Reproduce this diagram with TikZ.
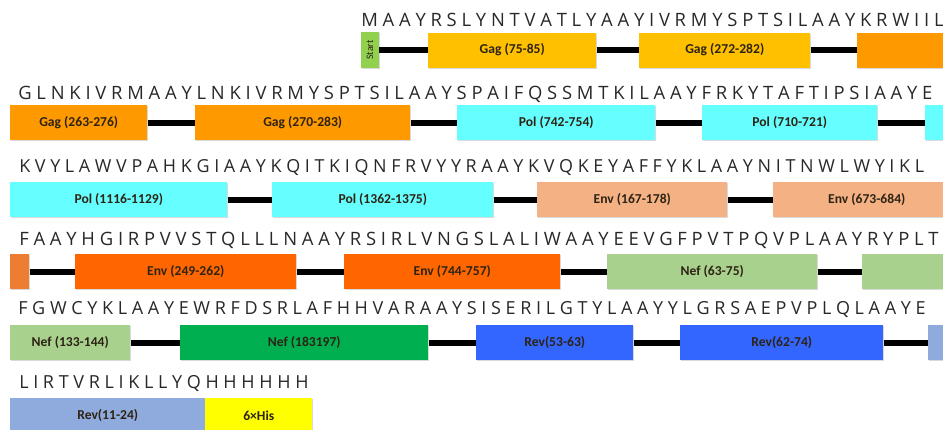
\documentclass[tikz,border=0pt]{standalone}
\usepackage{fontspec}
\setmainfont{Open Sans}
\newfontfamily\boxfont{Carlito}
\usepackage{xcolor}
\usetikzlibrary{shadows}

\definecolor{startgreen}{RGB}{146,208,80}
\definecolor{gaggold}{RGB}{255,192,0}
\definecolor{gagorange}{RGB}{255,153,0}
\definecolor{polcyan}{RGB}{102,255,255}
\definecolor{envtan}{RGB}{244,177,131}
\definecolor{envorange}{RGB}{255,102,0}
\definecolor{envlight}{RGB}{237,125,49}
\definecolor{neflight}{RGB}{169,209,142}
\definecolor{nefgreen}{RGB}{0,176,80}
\definecolor{revblue}{RGB}{51,102,255}
\definecolor{revlight}{RGB}{143,170,220}
\definecolor{hisyellow}{RGB}{255,255,0}
\definecolor{seqtext}{RGB}{40,40,40}
\definecolor{boxtext}{RGB}{45,35,20}

\tikzset{
  seg/.style={fill=#1, draw=none, minimum height=26.25pt, inner sep=0pt, anchor=west,
    font=\boxfont\bfseries\fontsize{10.2}{12}\selectfont, text=boxtext,
    drop shadow={opacity=0.3, shadow xshift=0.6pt, shadow yshift=-0.9pt}},
  link/.style={line width=4.5pt, black},
  seq/.style={anchor=west, inner sep=0pt, font=\fontsize{#1}{16}\selectfont, text=seqtext},
  seq/.default=13.8
}

\begin{document}
\begin{tikzpicture}[x=0.75pt,y=0.75pt,yscale=-1,xscale=1]
\useasboundingbox (0,0) rectangle (943,429);
\clip (0,0) rectangle (943,429);

% Row 1
\node[seq] (seqA) at (361,20) {M A A Y R S L Y N T V A T L Y A A Y I V R M Y S P T S I L A A Y K R W I I L};
\node[seg=startgreen, anchor=center, rotate=90, minimum width=27pt, minimum height=13.5pt,
  font=\boxfont\fontsize{7.5}{9}\selectfont] (start) at (370,50) {Start};
\node[seg=gaggold, minimum width=126pt] (gagA) at (428,50) {Gag (75-85)};
\node[seg=gaggold, minimum width=128.25pt] (gagB) at (639,50) {Gag (272-282)};
\node[seg=gagorange, minimum width=77.25pt] (gagC) at (857,50) {};
\draw[link] (start) -- (gagA);
\draw[link] (gagA) -- (gagB);
\draw[link] (gagB) -- (gagC);

% Row 2
\node[seq] (seqB) at (18,94) {G L N K I V R M A A Y L N K I V R M Y S P T S I L A A Y S P A I F Q S S M T K I L A A Y F R K Y T A F T I P S I A A Y E};
\node[seg=gagorange, minimum width=102.75pt] (gagD) at (10,122.5) {Gag (263-276)};
\node[seg=gagorange, minimum width=161.25pt] (gagE) at (195,122.5) {Gag (270-283)};
\node[seg=polcyan, minimum width=148.5pt] (polA) at (457,122.5) {Pol (742-754)};
\node[seg=polcyan, minimum width=131.25pt] (polB) at (702,122.5) {Pol (710-721)};
\node[seg=polcyan, minimum width=26.25pt] (polC) at (925,122.5) {};
\draw[link] (gagD) -- (gagE);
\draw[link] (gagE) -- (polA);
\draw[link] (polA) -- (polB);
\draw[link] (polB) -- (polC);

% Row 3
\node[seq=13.45] (seqC) at (19,168) {K V Y L A W V P A H K G I A A Y K Q I T K I Q N F R V Y Y R A A Y K V Q K E Y A F F Y K L A A Y N I T N W L W Y I K L};
\node[seg=polcyan, minimum width=162.75pt] (polD) at (10,199.5) {Pol (1116-1129)};
\node[seg=polcyan, minimum width=165.75pt] (polE) at (272,199.5) {Pol (1362-1375)};
\node[seg=envtan, minimum width=142.5pt] (envA) at (537,199.5) {Env (167-178)};
\node[seg=envtan, minimum width=140.25pt] (envB) at (773,199.5) {Env (673-684)};
\draw[link] (polD) -- (polE);
\draw[link] (polE) -- (envA);
\draw[link] (envA) -- (envB);

% Row 4
\node[seq] (seqD) at (19,240) {F A A Y H G I R P V V S T Q L L L N A A Y R S I R L V N G S L A L I W A A Y E E V G F P V T P Q V P L A A Y R Y P L T};
\node[seg=envlight, minimum width=14.25pt] (envC) at (10,271.5) {};
\node[seg=envorange, minimum width=165.75pt] (envD) at (75,271.5) {Env (249-262)};
\node[seg=envorange, minimum width=162pt] (envE) at (344,271.5) {Env (744-757)};
\node[seg=neflight, minimum width=157.5pt] (nefA) at (607,271.5) {Nef (63-75)};
\node[seg=neflight, minimum width=73.5pt] (nefB) at (862,271.5) {};
\draw[link] (envC) -- (envD);
\draw[link] (envD) -- (envE);
\draw[link] (envE) -- (nefA);
\draw[link] (nefA) -- (nefB);

% Row 5
\node[seq=13.5] (seqE) at (18,309) {F G W C Y K L A A Y E W R F D S R L A F H H V A R A A Y S I S E R I L G T Y L A A Y Y L G R S A E P V P L Q L A A Y E};
\node[seg=neflight, minimum width=90pt] (nefC) at (10,342.5) {Nef (133-144)};
\node[seg=nefgreen, minimum width=186pt] (nefD) at (180,342.5) {Nef (183197)};
\node[seg=revblue, minimum width=117.75pt] (revA) at (476,342.5) {Rev(53-63)};
\node[seg=revblue, minimum width=152.25pt] (revB) at (680,342.5) {Rev(62-74)};
\node[seg=revlight, minimum width=24pt] (revC) at (928,342.5) {};
\draw[link] (nefC) -- (nefD);
\draw[link] (nefD) -- (revA);
\draw[link] (revA) -- (revB);
\draw[link] (revB) -- (revC);

% Row 6
\node[seq=13.5] (seqF) at (19,383) {L I R T V R L I K L L Y Q H H H H H H};
\node[seg=revlight, minimum width=146.25pt] (revD) at (10,415.5) {Rev(11-24)};
\node[seg=hisyellow, minimum width=80.25pt] (his) at (205,415.5) {6×His};

\end{tikzpicture}
\end{document}
